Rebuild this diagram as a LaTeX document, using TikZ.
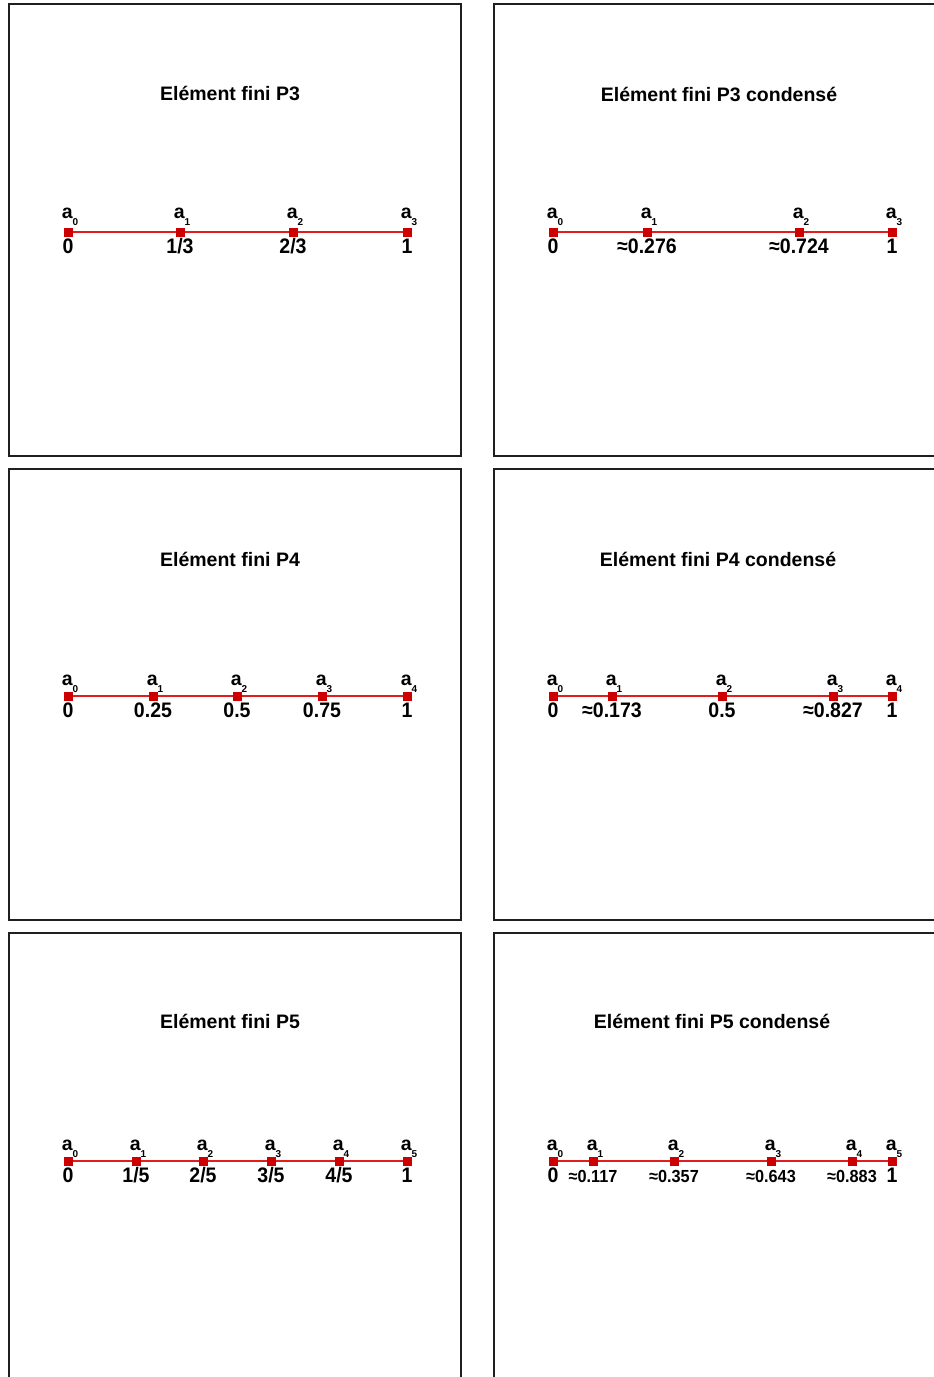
\documentclass[tikz,border=0pt]{standalone}
\usepackage{fontspec}
\setmainfont{Liberation Sans}
\usetikzlibrary{backgrounds}
\definecolor{ptred}{RGB}{204,0,0}
\definecolor{segred}{RGB}{224,30,30}
\newcommand\asub[1]{\raisebox{-7pt}{\fontsize{10}{10}\selectfont #1}}
\tikzset{
  panelframe/.style={draw=black!88, line width=1.1pt},
  ptitle/.style={font=\fontsize{19.5}{22}\selectfont\bfseries, anchor=base, inner sep=0pt},
  ptbox/.style={rectangle, fill=ptred, minimum size=9pt, inner sep=0pt},
  seg/.style={draw=segred, line width=1.3pt},
  alab/.style={font=\fontsize{19.5}{20}\selectfont\bfseries, anchor=base, inner sep=0pt},
  vlab/.style={font=\fontsize{21}{22}\selectfont\bfseries, anchor=base, inner sep=0pt, xscale=0.93},
  vsmall/.style={font=\fontsize{17.5}{20}\selectfont\bfseries, anchor=base, inner sep=0pt, xscale=0.93},
}
\begin{document}
\begin{tikzpicture}[x=1pt,y=1pt]
\useasboundingbox (0,0) rectangle (934,-1377);
\clip (0,0) rectangle (934,-1377);

% ---------- Panel A : P3 ----------
\draw[panelframe] (9,-4) rectangle (461,-456);
\node[ptitle] (tA) at (230,-100) {Elément fini P3};
\foreach \x/\v [count=\i from 0] in {68/0,180/{1/3},293/{2/3},407/1}{
  \node[ptbox] (pA\i) at (\x,-232) {};
  \node[alab] (aA\i) at (\x+2,-218) {a\asub{\i}};
  \node[vlab] (vA\i) at (\x,-253) {\v};
}
\begin{scope}[on background layer]
  \draw[seg] (pA0.center) -- (pA3.center);
\end{scope}

% ---------- Panel B : P3 condense ----------
\draw[panelframe] (494,-4) rectangle (946,-456);
\node[ptitle] (tB) at (719,-101) {Elément fini P3 condensé};
\foreach \x/\v [count=\i from 0] in {553/0,647/{≈0.276},799/{≈0.724},892/1}{
  \node[ptbox] (pB\i) at (\x,-232) {};
  \node[alab] (aB\i) at (\x+2,-218) {a\asub{\i}};
  \node[vlab] (vB\i) at (\x,-253) {\v};
}
\begin{scope}[on background layer]
  \draw[seg] (pB0.center) -- (pB3.center);
\end{scope}

% ---------- Panel C : P4 ----------
\draw[panelframe] (9,-469) rectangle (461,-920);
\node[ptitle] (tC) at (230,-566) {Elément fini P4};
\foreach \x/\v [count=\i from 0] in {68/0,153/{0.25},237/{0.5},322/{0.75},407/1}{
  \node[ptbox] (pC\i) at (\x,-696) {};
  \node[alab] (aC\i) at (\x+2,-685) {a\asub{\i}};
  \node[vlab] (vC\i) at (\x,-717) {\v};
}
\begin{scope}[on background layer]
  \draw[seg] (pC0.center) -- (pC4.center);
\end{scope}

% ---------- Panel D : P4 condense ----------
\draw[panelframe] (494,-469) rectangle (946,-920);
\node[ptitle] (tD) at (718,-566) {Elément fini P4 condensé};
\foreach \x/\v [count=\i from 0] in {553/0,612/{≈0.173},722/{0.5},833/{≈0.827},892/1}{
  \node[ptbox] (pD\i) at (\x,-696) {};
  \node[alab] (aD\i) at (\x+2,-685) {a\asub{\i}};
  \node[vlab] (vD\i) at (\x,-717) {\v};
}
\begin{scope}[on background layer]
  \draw[seg] (pD0.center) -- (pD4.center);
\end{scope}

% ---------- Panel E : P5 ----------
\draw[panelframe] (9,-933) rectangle (461,-1385);
\node[ptitle] (tE) at (230,-1028) {Elément fini P5};
\foreach \x/\v [count=\i from 0] in {68/0,136/{1/5},203/{2/5},271/{3/5},339/{4/5},407/1}{
  \node[ptbox] (pE\i) at (\x,-1161) {};
  \node[alab] (aE\i) at (\x+2,-1150) {a\asub{\i}};
  \node[vlab] (vE\i) at (\x,-1182) {\v};
}
\begin{scope}[on background layer]
  \draw[seg] (pE0.center) -- (pE5.center);
\end{scope}

% ---------- Panel F : P5 condense ----------
\draw[panelframe] (494,-933) rectangle (946,-1385);
\node[ptitle] (tF) at (712,-1028) {Elément fini P5 condensé};
\foreach \x/\v [count=\i from 0] in {553/0,593/{≈0.117},674/{≈0.357},771/{≈0.643},852/{≈0.883},892/1}{
  \node[ptbox] (pF\i) at (\x,-1161) {};
  \node[alab] (aF\i) at (\x+2,-1150) {a\asub{\i}};
}
\node[vlab] (vF0) at (553,-1182) {0};
\node[vsmall] (vF1) at (593,-1182) {≈0.117};
\node[vsmall] (vF2) at (674,-1182) {≈0.357};
\node[vsmall] (vF3) at (771,-1182) {≈0.643};
\node[vsmall] (vF4) at (852,-1182) {≈0.883};
\node[vlab] (vF5) at (892,-1182) {1};
\begin{scope}[on background layer]
  \draw[seg] (pF0.center) -- (pF5.center);
\end{scope}
\end{tikzpicture}
\end{document}
